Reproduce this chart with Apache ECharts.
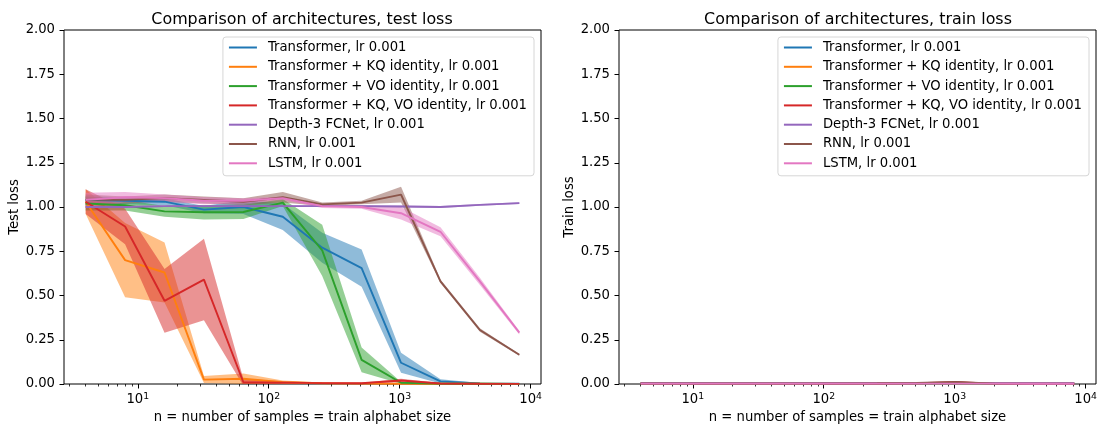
<!DOCTYPE html>
<html>
<head>
<meta charset="utf-8">
<script src="https://cdn.jsdelivr.net/npm/echarts@6/dist/echarts.min.js"></script>
<style>
  html, body { margin: 0; padding: 0; background: #fff; }
  #main { width: 1105px; height: 430px; }
</style>
</head>
<body>
<div id="main"></div>
<script>
// n = number of samples (x values shared by every curve)
var sizes = [4, 8, 16, 32, 64, 128, 256, 512, 1024, 2048, 4096, 8192];

var names = [
    'Transformer, lr 0.001',
    'Transformer + KQ identity, lr 0.001',
    'Transformer + VO identity, lr 0.001',
    'Transformer + KQ, VO identity, lr 0.001',
    'Depth-3 FCNet, lr 0.001',
    'RNN, lr 0.001',
    'LSTM, lr 0.001'
];
var colors = ['#1f77b4', '#ff7f0e', '#2ca02c', '#d62728', '#9467bd', '#8c564b', '#e377c2'];

// test loss: mean and std across runs
var testTransformer    = [1.04, 1.035, 1.03, 0.985, 1.00, 0.945, 0.77, 0.655, 0.12, 0.015, 0.003, 0.001];
var testTransformerStd = [0.02, 0.02, 0.02, 0.02, 0.04, 0.075, 0.085, 0.105, 0.057, 0.012, 0.003, 0.001];
var testKQ             = [1.03, 0.70, 0.63, 0.025, 0.03, 0.01, 0.004, 0.002, 0.001, 0.001, 0.001, 0.0005];
var testKQStd          = [0.07, 0.21, 0.17, 0.02, 0.03, 0.01, 0.004, 0.002, 0.001, 0.001, 0.001, 0.0005];
var testVO             = [1.02, 1.01, 0.975, 0.97, 0.972, 1.025, 0.755, 0.136, 0.007, 0.002, 0.001, 0.0005];
var testVOStd          = [0.04, 0.03, 0.03, 0.04, 0.04, 0.02, 0.145, 0.07, 0.005, 0.002, 0.001, 0.0005];
var testKQVO           = [1.03, 0.89, 0.47, 0.59, 0.01, 0.008, 0.005, 0.004, 0.02, 0.003, 0.001, 0.0005];
var testKQVOStd        = [0.07, 0.10, 0.18, 0.23, 0.02, 0.008, 0.004, 0.003, 0.01, 0.002, 0.001, 0.0005];
var testFCNet          = [1.00, 1.00, 1.005, 1.005, 1.005, 1.005, 1.005, 1.005, 1.003, 1.00, 1.012, 1.022];
var testFCNetStd       = [0.005, 0.005, 0.005, 0.005, 0.005, 0.005, 0.005, 0.005, 0.005, 0.005, 0.005, 0.005];
var testRNN            = [1.04, 1.04, 1.05, 1.04, 1.03, 1.055, 1.015, 1.025, 1.07, 0.58, 0.305, 0.165];
var testRNNStd         = [0.03, 0.02, 0.02, 0.02, 0.02, 0.03, 0.01, 0.01, 0.045, 0.01, 0.01, 0.005];
var testLSTM           = [1.04, 1.055, 1.05, 1.035, 1.035, 1.05, 1.005, 1.0, 0.965, 0.86, 0.58, 0.29];
var testLSTMStd        = [0.04, 0.03, 0.02, 0.02, 0.015, 0.01, 0.01, 0.01, 0.035, 0.025, 0.02, 0.01];

// train loss: mean and std across runs
var trainTransformer    = [0.003, 0.003, 0.002, 0.002, 0.002, 0.002, 0.002, 0.002, 0.002, 0.001, 0.001, 0.001];
var trainTransformerStd = [0.001, 0.001, 0.001, 0.001, 0.001, 0.001, 0.001, 0.001, 0.001, 0.001, 0.001, 0.001];
var trainKQ             = [0.003, 0.002, 0.002, 0.002, 0.002, 0.002, 0.002, 0.002, 0.002, 0.001, 0.001, 0.001];
var trainKQStd          = [0.001, 0.001, 0.001, 0.001, 0.001, 0.001, 0.001, 0.001, 0.001, 0.001, 0.001, 0.001];
var trainVO             = [0.003, 0.002, 0.002, 0.002, 0.002, 0.002, 0.002, 0.002, 0.002, 0.001, 0.001, 0.001];
var trainVOStd          = [0.001, 0.001, 0.001, 0.001, 0.001, 0.001, 0.001, 0.001, 0.001, 0.001, 0.001, 0.001];
var trainKQVO           = [0.003, 0.002, 0.002, 0.002, 0.002, 0.002, 0.003, 0.004, 0.01, 0.002, 0.001, 0.001];
var trainKQVOStd        = [0.001, 0.001, 0.001, 0.001, 0.001, 0.001, 0.001, 0.002, 0.004, 0.001, 0.001, 0.001];
var trainFCNet          = [0.004, 0.004, 0.004, 0.004, 0.004, 0.004, 0.004, 0.004, 0.004, 0.004, 0.004, 0.004];
var trainFCNetStd       = [0.001, 0.001, 0.001, 0.001, 0.001, 0.001, 0.001, 0.001, 0.001, 0.001, 0.001, 0.001];
var trainRNN            = [0.003, 0.003, 0.003, 0.003, 0.003, 0.003, 0.004, 0.006, 0.011, 0.002, 0.001, 0.001];
var trainRNNStd         = [0.001, 0.001, 0.001, 0.001, 0.001, 0.001, 0.002, 0.003, 0.005, 0.001, 0.001, 0.001];
var trainLSTM           = [0.002, 0.002, 0.002, 0.002, 0.002, 0.002, 0.002, 0.002, 0.002, 0.002, 0.001, 0.001];
var trainLSTMStd        = [0.001, 0.001, 0.001, 0.001, 0.001, 0.001, 0.001, 0.001, 0.001, 0.001, 0.001, 0.001];

var testMeans  = [testTransformer, testKQ, testVO, testKQVO, testFCNet, testRNN, testLSTM];
var testStds   = [testTransformerStd, testKQStd, testVOStd, testKQVOStd, testFCNetStd, testRNNStd, testLSTMStd];
var trainMeans = [trainTransformer, trainKQ, trainVO, trainKQVO, trainFCNet, trainRNN, trainLSTM];
var trainStds  = [trainTransformerStd, trainKQStd, trainVOStd, trainKQVOStd, trainFCNetStd, trainRNNStd, trainLSTMStd];

var titles = ['Comparison of architectures, test loss', 'Comparison of architectures, train loss'];
var yNames = ['Test loss', 'Train loss'];
var xName = 'n = number of samples = train alphabet size';
var xMajor = [1, 2, 3, 4];   // decades: 10^1 .. 10^4

var FONT = 'DejaVu Sans';
var FS = 13.2;
var chart = echarts.init(document.getElementById('main'));

// matplotlib-like 5% margins in log space
var lgLo = Math.log10(sizes[0]), lgHi = Math.log10(sizes[sizes.length - 1]);
var pad = (lgHi - lgLo) * 0.05;
var xMinLg = lgLo - pad, xMaxLg = lgHi + pad;

var xMinor = [];
[1, 10, 100, 1000].forEach(function (d) {
    for (var k = 2; k <= 9; k++) {
        var v = Math.log10(k * d);
        if (v > xMinLg && v < xMaxLg) xMinor.push(v);
    }
});

var grids = [
    { left: 64, width: 477, top: 30, height: 354, show: true, borderColor: '#000', borderWidth: 1, backgroundColor: 'transparent' },
    { left: 619, width: 477, top: 30, height: 354, show: true, borderColor: '#000', borderWidth: 1, backgroundColor: 'transparent' }
];

// shaded mean +- std band, drawn as one polygon through the axes' own coords
function bandSeries(g, i, m, s) {
    var rows = m.map(function (v, j) { return [sizes[j], v - s[j], v + s[j]]; });
    return {
        type: 'custom', xAxisIndex: g * 3, yAxisIndex: g, clip: true, silent: true, z: 1,
        data: rows,
        encode: { x: 0, y: [1, 2] },
        renderItem: function (params, api) {
            if (params.dataIndex !== 0) return;
            var pts = [];
            rows.forEach(function (r) { pts.push(api.coord([r[0], r[2]])); });
            for (var k = rows.length - 1; k >= 0; k--) pts.push(api.coord([rows[k][0], rows[k][1]]));
            return {
                type: 'polygon', shape: { points: pts },
                style: { fill: colors[i], opacity: 0.5 }
            };
        }
    };
}

var xAxes = [], yAxes = [], series = [], legends = [], titleList = [];

[0, 1].forEach(function (g) {
    // axis carrying the data (log scale)
    xAxes.push({
        type: 'log', logBase: 10, gridIndex: g, position: 'bottom',
        min: Math.pow(10, xMinLg), max: Math.pow(10, xMaxLg),
        show: false
    });
    // major ticks / labels, in decades
    xAxes.push({
        type: 'value', gridIndex: g, position: 'bottom',
        min: xMinLg, max: xMaxLg,
        axisLine: { show: false },
        splitLine: { show: false },
        axisTick: { show: true, length: 4.5, customValues: xMajor, lineStyle: { color: '#000', width: 1 } },
        axisLabel: {
            customValues: xMajor, margin: 8, color: '#000',
            fontFamily: FONT, fontSize: FS,
            formatter: function (v) { return '{b|10}{s|' + Math.round(v) + '}'; },
            rich: {
                b: { fontFamily: FONT, fontSize: FS, color: '#000' },
                s: { fontFamily: FONT, fontSize: 9.3, color: '#000', padding: [0, 0, 7, 0] }
            }
        },
        name: xName, nameLocation: 'middle', nameGap: 27,
        nameTextStyle: { fontFamily: FONT, fontSize: FS, color: '#000' }
    });
    // minor ticks
    xAxes.push({
        type: 'value', gridIndex: g, position: 'bottom',
        min: xMinLg, max: xMaxLg,
        axisLine: { show: false },
        splitLine: { show: false },
        axisTick: { show: true, length: 2.5, customValues: xMinor, lineStyle: { color: '#000', width: 0.8 } },
        axisLabel: { show: false }
    });

    yAxes.push({
        type: 'value', gridIndex: g, min: 0, max: 2, interval: 0.25,
        axisLine: { show: false },
        splitLine: { show: false },
        axisTick: { show: true, length: 4.5, lineStyle: { color: '#000', width: 1 } },
        axisLabel: {
            margin: 9, color: '#000', fontFamily: FONT, fontSize: FS,
            formatter: function (v) { return v.toFixed(2); }
        },
        name: yNames[g], nameLocation: 'middle', nameGap: 43,
        nameTextStyle: { fontFamily: FONT, fontSize: FS, color: '#000' }
    });

    titleList.push({
        text: titles[g], left: g === 0 ? 297 : 853, top: 7, textAlign: 'center',
        textStyle: { fontFamily: FONT, fontSize: 15.9, fontWeight: 'normal', color: '#000' }
    });

    legends.push({
        data: names.map(function (n) { return { name: n, icon: 'rect' }; }),
        orient: 'vertical', right: g === 0 ? 571 : 16, top: 37,
        itemWidth: 28, itemHeight: 2, itemGap: 4.3,
        padding: [3, 7, 5, 6],
        borderColor: '#d6d6d6', borderWidth: 1, borderRadius: 3,
        backgroundColor: 'rgba(255,255,255,0.8)',
        selectedMode: false,
        textStyle: { fontFamily: FONT, fontSize: FS, color: '#000', lineHeight: 15, padding: [0, 0, 0, 6] }
    });

    var means = g === 0 ? testMeans : trainMeans;
    var stds = g === 0 ? testStds : trainStds;
    means.forEach(function (m, i) {
        series.push({
            name: names[i], type: 'line', xAxisIndex: g * 3, yAxisIndex: g, z: 2,
            data: m.map(function (v, j) { return [sizes[j], v]; }),
            color: colors[i], symbol: 'none', lineStyle: { width: 1.9 },
            silent: true
        });
        series.push(bandSeries(g, i, m, stds[i]));
    });
});

chart.setOption({
    animation: false,
    backgroundColor: '#fff',
    textStyle: { fontFamily: FONT },
    title: titleList,
    legend: legends,
    grid: grids,
    xAxis: xAxes,
    yAxis: yAxes,
    series: series
});
</script>
</body>
</html>
